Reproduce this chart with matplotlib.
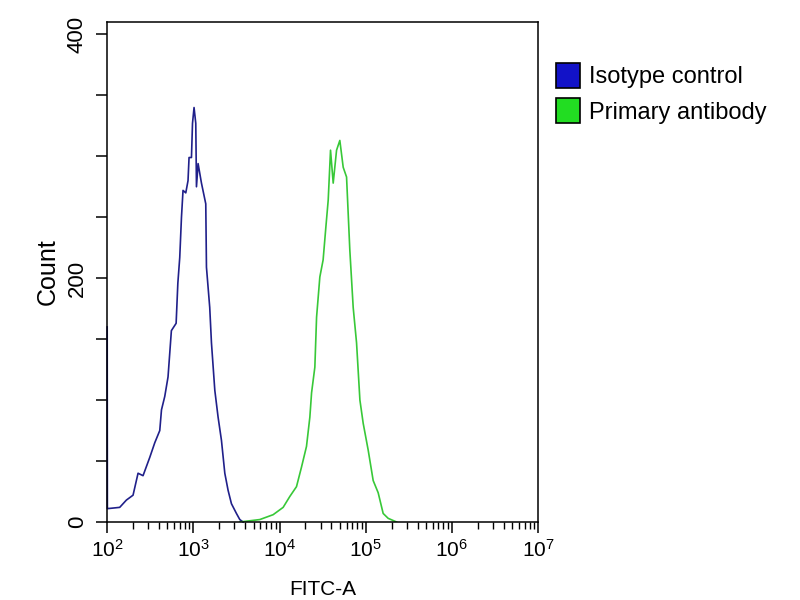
import numpy as np
import matplotlib.pyplot as plt
from matplotlib.patches import Patch
from matplotlib.ticker import MultipleLocator, FixedLocator, NullFormatter

plt.rcParams['font.family'] = ['Liberation Sans', 'DejaVu Sans']
plt.rcParams['mathtext.fontset'] = 'custom'
plt.rcParams['mathtext.rm'] = 'Liberation Sans'
plt.rcParams['mathtext.it'] = 'Liberation Sans:italic'

# histogram traces: log10(FITC-A) and count
iso_log = [2.0, 2.002, 2.009, 2.145, 2.223, 2.30, 2.358, 2.416, 2.494, 2.552, 2.61, 2.63,
           2.668, 2.706, 2.745, 2.80, 2.82, 2.842, 2.862, 2.88, 2.912, 2.938, 2.95,
           2.978, 2.99, 3.008, 3.028, 3.036, 3.055, 3.094, 3.144, 3.152, 3.19, 3.21,
           3.249, 3.287, 3.326, 3.365, 3.403, 3.442, 3.50, 3.539, 3.577]
iso_count = [160, 11, 11, 12, 18, 22, 40, 38, 53, 65, 75, 92,
             103, 119, 157, 163, 196, 217, 250, 272, 270, 280, 299,
             299, 327, 340, 327, 275, 294, 278, 261, 209, 176, 147,
             108, 86, 67, 40, 26, 15, 7, 2, 0]

prim_log = [3.539, 3.771, 3.926, 4.042, 4.12, 4.197, 4.255, 4.313, 4.352, 4.372, 4.41,
            4.43, 4.468, 4.506, 4.538, 4.565, 4.592, 4.623, 4.662, 4.70, 4.739, 4.778,
            4.816, 4.855, 4.894, 4.933, 4.971, 5.029, 5.087, 5.145, 5.203, 5.261, 5.359]
prim_count = [0, 2, 6, 12, 21, 29, 45, 62, 86, 106, 127,
              168, 201, 215, 242, 264, 305, 278, 305, 313, 291, 283,
              223, 176, 147, 100, 81, 59, 34, 24, 7, 3, 0]

labels = ['Isotype control', 'Primary antibody']
line_colors = ['#20208a', '#38c838']
patch_colors = ['#1212c8', '#22dd22']

fig = plt.figure(figsize=(8, 6), dpi=100)
ax = fig.add_axes([0.134, 0.13, 0.5385, 0.833])

ax.plot(10 ** np.array(iso_log), iso_count, color=line_colors[0], lw=1.2, clip_on=False)
ax.plot(10 ** np.array(prim_log), prim_count, color=line_colors[1], lw=1.2)

ax.set_xscale('log')
ax.set_xlim(1e2, 1e7)
ax.set_ylim(0, 410)

ax.yaxis.set_major_locator(FixedLocator([0, 200, 400]))
ax.yaxis.set_minor_locator(MultipleLocator(50))
ax.tick_params(axis='y', which='both', length=8, width=1.1, direction='out',
               labelsize=16, pad=6)
for t in ax.get_yticklabels():
    t.set_rotation(90)
    t.set_va('center')
ax.tick_params(axis='x', which='major', length=8, width=1.1, labelsize=15, pad=4)
ax.tick_params(axis='x', which='minor', length=5, width=1.0)
ax.xaxis.set_minor_formatter(NullFormatter())

for s in ax.spines.values():
    s.set_linewidth(1.1)

ax.set_ylabel('Count', fontsize=18, labelpad=5)
ax.set_xlabel('FITC-A', fontsize=15, labelpad=14)

handles = [Patch(facecolor=c, edgecolor='black', lw=1.2) for c in patch_colors]
fig.legend(handles, labels, loc='upper left', bbox_to_anchor=(0.695, 0.895),
           frameon=False, fontsize=17, handlelength=1.0, handleheight=1.25,
           handletextpad=0.4, labelspacing=0.42, borderaxespad=0, borderpad=0)

fig.savefig('out.png', dpi=100)
